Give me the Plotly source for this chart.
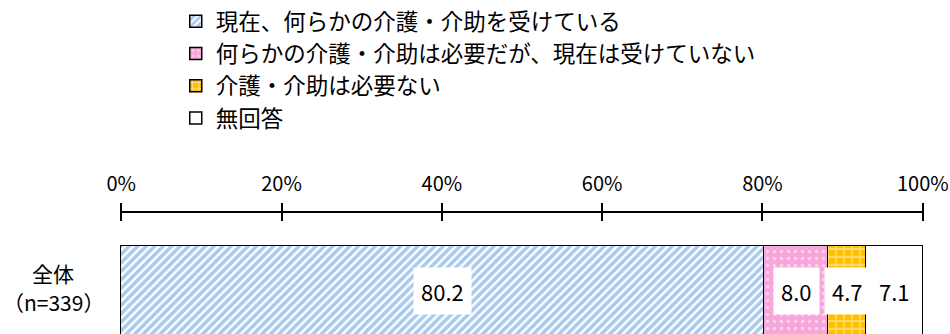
import plotly.graph_objects as go

cat_line1 = "全体"
cat_line2 = "（n=339）"
series_names = [
    "現在、何らかの介護・介助を受けている",
    "何らかの介護・介助は必要だが、現在は受けていない",
    "介護・介助は必要ない",
    "無回答",
]
series_values = [80.2, 8.0, 4.7, 7.1]
tick_vals = [0, 20, 40, 60, 80, 100]
tick_text = ["0%", "20%", "40%", "60%", "80%", "100%"]

FONT = "Noto Sans CJK JP, Noto Sans, sans-serif"

patterns = [
    dict(shape="/", fgcolor="#5596D8", bgcolor="white", size=6, solidity=0.6),
    dict(shape=".", fgcolor="white", bgcolor="#F7A6DA", size=7, solidity=0.18),
    dict(shape="+", fgcolor="white", bgcolor="#FFC000", size=8, solidity=0.3),
    dict(shape="", fgcolor="white", bgcolor="white"),
]

fig = go.Figure()
for i, (name, val) in enumerate(zip(series_names, series_values)):
    fig.add_trace(go.Bar(
        x=[val], y=[0], orientation="h", name=name, width=1,
        marker=dict(color="white", pattern=patterns[i],
                    line=dict(color="black", width=1.5)),
        legendgroup=f"g{i}", hoverinfo="skip",
    ))

# invisible trace for the secondary (inside-tick) axis
fig.add_trace(go.Scatter(x=[None], y=[None], xaxis="x2", showlegend=False, hoverinfo="skip"))

# value labels
cum = 0
for name, val in zip(series_names, series_values):
    fig.add_annotation(
        x=cum + val / 2, y=0, xref="x", yref="y", text=f"{val:.1f}",
        showarrow=False, bgcolor="white", borderpad=7,
        font=dict(family=FONT, size=22, color="black"),
    )
    cum += val

# category label
fig.add_annotation(x=-0.0833, y=0, xref="paper", yref="y", text=cat_line1,
                   xanchor="center", showarrow=False, yshift=18,
                   font=dict(family=FONT, size=21, color="black"))
fig.add_annotation(x=-0.0833, y=0, xref="paper", yref="y", text=cat_line2,
                   xanchor="center", showarrow=False, yshift=-11,
                   font=dict(family=FONT, size=21, color="black"))

axis_common = dict(range=[-0.15, 100.15], tickvals=tick_vals, side="top",
                   showgrid=False, zeroline=False, showline=True, linecolor="black",
                   linewidth=2, tickwidth=2, tickcolor="black", ticklen=8)

fig.update_layout(
    width=950, height=334,
    margin=dict(l=120, r=26, t=213, b=0, autoexpand=False),
    paper_bgcolor="white", plot_bgcolor="white",
    barmode="stack", bargap=0,
    font=dict(family=FONT, color="black"),
    xaxis=dict(**axis_common, ticks="outside", ticktext=tick_text,
               tickfont=dict(family=FONT, size=20, color="black"), ticklabelstandoff=4),
    xaxis2=dict(**axis_common, ticks="inside", overlaying="x", showticklabels=False),
    yaxis=dict(range=[-0.478, 0.8667], showticklabels=False, showgrid=False,
               zeroline=False, showline=False),
    legend=dict(xref="container", yref="container", x=0.185, xanchor="left",
                y=1.007, yanchor="top",
                traceorder="grouped", tracegroupgap=0,
                font=dict(family=FONT, size=22.5, color="black"),
                bgcolor="rgba(0,0,0,0)", itemwidth=30),
    showlegend=True,
)

fig.write_html("out.html", config={"displayModeBar": False},
               post_script="document.body.style.margin='0';")
